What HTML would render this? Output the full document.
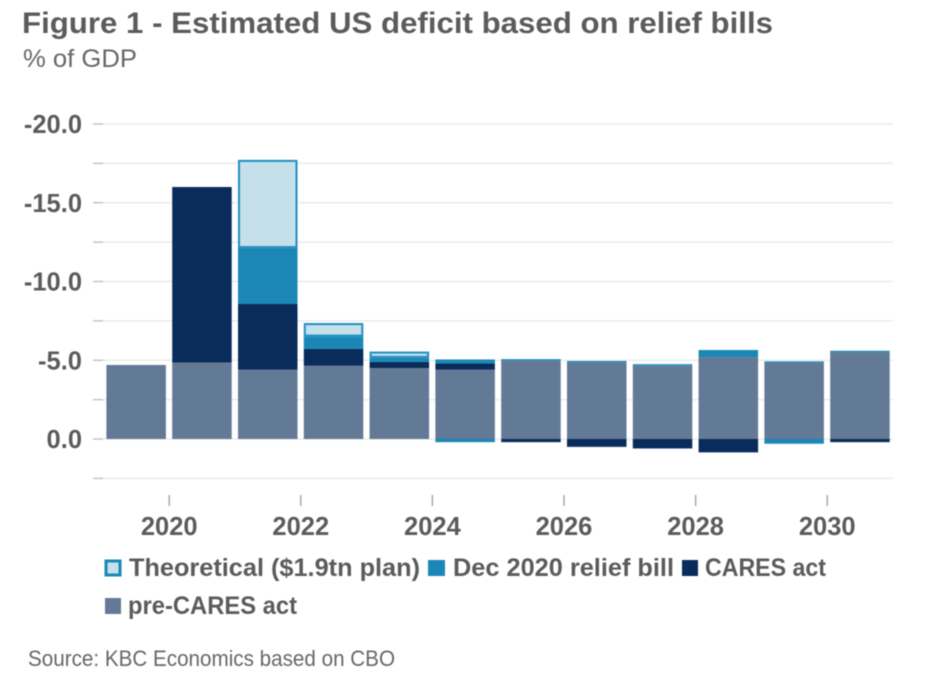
<!DOCTYPE html>
<html>
<head>
<meta charset="utf-8">
<style>
html,body{margin:0;padding:0;background:#fff;width:936px;height:696px;overflow:hidden}
svg{display:block;font-family:"Liberation Sans",sans-serif;filter:blur(0.4px)}
.b{font-weight:bold;fill:#5a5b5d}
.r{fill:#66676a}
</style>
</head>
<body>
<svg id="chart" width="936" height="696" viewBox="0 0 936 696" xmlns="http://www.w3.org/2000/svg">
<text class="b" x="22" y="33" font-size="30" textLength="751" lengthAdjust="spacingAndGlyphs">Figure 1 - Estimated US deficit based on relief bills</text>
<text class="r" x="23" y="67" font-size="25" textLength="114" lengthAdjust="spacingAndGlyphs">% of GDP</text>
<g id="grid"></g>
<g id="bars"></g>
<g id="xaxis"></g>
<g id="legend">
<g>
<rect x="106" y="561" width="14" height="14" fill="#c5dfeb" stroke="#1a87b7" stroke-width="3"/>
<text class="b" x="129" y="576" font-size="25" textLength="291" lengthAdjust="spacingAndGlyphs">Theoretical ($1.9tn plan)</text>
</g>
<g>
<rect x="428" y="560" width="17" height="16" fill="#1a87b7"/>
<text class="b" x="453" y="576" font-size="25" textLength="221" lengthAdjust="spacingAndGlyphs">Dec 2020 relief bill</text>
</g>
<g>
<rect x="682" y="560" width="16" height="16" fill="#0a2c5a"/>
<text class="b" x="705" y="576" font-size="25" textLength="121" lengthAdjust="spacingAndGlyphs">CARES act</text>
</g>
<g>
<rect x="105" y="598" width="16" height="16" fill="#627a96"/>
<text class="b" x="128" y="614" font-size="25" textLength="169" lengthAdjust="spacingAndGlyphs">pre-CARES act</text>
</g>
</g>
<text class="r" x="28" y="666" font-size="22" textLength="367" lengthAdjust="spacingAndGlyphs">Source: KBC Economics based on CBO</text>
</svg>
<script>
const years = [2019,2020,2021,2022,2023,2024,2025,2026,2027,2028,2029,2030];
const preCares = [4.7,4.85,4.4,4.65,4.5,4.4,4.97,4.85,4.65,5.2,4.85,5.5];
const cares = [0,11.15,4.17,1.08,0.4,0.4,0,0,0,0,0,0];
const decBill = [0,0,3.55,0.77,0.25,0.25,0.1,0.1,0.1,0.45,0.08,0.1];
const theoretical = [0,0,5.6,0.86,0.4,0,0,0,0,0,0,0];
const caresBelow = [0,0,0,0,0,0,0.2,0.5,0.6,0.85,0,0.2];
const decBelow = [0,0,0,0,0,0.2,0,0,0,0,0.3,0];
const yTicks = [-20,-17.5,-15,-12.5,-10,-7.5,-5,-2.5,0,2.5];
const yLabels = ["-20.0","","-15.0","","-10.0","","-5.0","","0.0",""];
const xTicks = [2020,2022,2024,2026,2028,2030];

const NS = 'http://www.w3.org/2000/svg';
function sy(v){ return 439 + v * 15.75; }
function sx(yr){ return 103.4 + (yr - 2019) * 65.8; }
function mk(parent, tag, attrs){
  const el = document.createElementNS(NS, tag);
  for (const k in attrs) el.setAttribute(k, attrs[k]);
  parent.appendChild(el);
  return el;
}
const grid = document.getElementById('grid');
yTicks.forEach(function(t, i){
  const line = mk(grid, 'line', {x1:103, x2:893, y1:sy(t), y2:sy(t), stroke:'#ebebeb', 'stroke-width':1.5});
  
  
  const tick = mk(grid, 'line', {x1:93, x2:103, y1:sy(t), y2:sy(t), stroke:'#c4c4c4', 'stroke-width':1.5});
  
  
  if (yLabels[i]) {
    const lab = mk(grid, 'text', {x:82, y:sy(t) + 9, 'text-anchor':'end', 'font-size':25.5, class:'b'});
    lab.textContent = yLabels[i];
    
    
  }
});
const bars = document.getElementById('bars');
function seg(group, yr, v0, v1, fill, name){
  if (v1 === v0) return;
  const top = Math.min(sy(v0), sy(v1));
  const h = Math.abs(sy(v1) - sy(v0));
  const r = mk(group, 'rect', {x:sx(yr) + 3, y:top, width:59.5, height:h, fill:fill});
  
  
  return r;
}
years.forEach(function(yr, i){
  let up = -preCares[i];
  seg(bars, yr, 0, up, '#627a96', 'bar-pre-cares');
  seg(bars, yr, up, up - cares[i], '#0a2c5a', 'bar-cares');
  up -= cares[i];
  seg(bars, yr, up, up - decBill[i], '#1a87b7', 'bar-dec-bill');
  up -= decBill[i];
  if (theoretical[i] > 0) {
    const t = seg(bars, yr, up, up - theoretical[i], '#c5dfeb', 'bar-theoretical');
    const inset = 1;
    t.setAttribute('x', sx(yr) + 3 + inset);
    t.setAttribute('width', 59.5 - 2 * inset);
    t.setAttribute('y', +t.getAttribute('y') + inset);
    t.setAttribute('height', +t.getAttribute('height') - 2 * inset);
    t.setAttribute('stroke', '#1f8fc0');
    t.setAttribute('stroke-width', 2);
  }
  let down = 0;
  seg(bars, yr, down, down + caresBelow[i], '#0a2c5a', 'bar-cares-below');
  down += caresBelow[i];
  seg(bars, yr, down, down + decBelow[i], '#1a87b7', 'bar-dec-bill-below');
});
const xaxis = document.getElementById('xaxis');
xTicks.forEach(function(yr){
  const tick = mk(xaxis, 'line', {x1:sx(yr), x2:sx(yr), y1:495, y2:506, stroke:'#a8a8a8', 'stroke-width':1.5});
  
  
  const lab = mk(xaxis, 'text', {x:sx(yr), y:535, 'text-anchor':'middle', 'font-size':25.5, class:'b'});
  lab.textContent = yr;
  
  
});
</script>
</body>
</html>
